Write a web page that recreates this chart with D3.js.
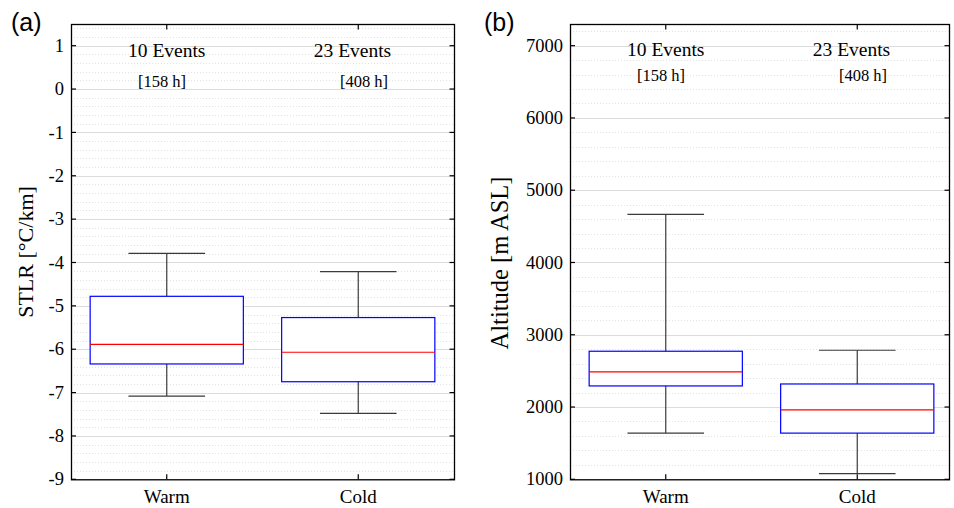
<!DOCTYPE html>
<html>
<head>
<meta charset="utf-8">
<script src="https://cdn.jsdelivr.net/npm/d3@7"></script>
<style>
  html, body { margin: 0; padding: 0; background: #fff; }
  svg { display: block; }
</style>
</head>
<body>
<svg id="chart" width="954" height="508"></svg>
<script>
// ---------- data ----------
const categories = ["Warm", "Cold"];
const eventLabels = ["10 Events", "23 Events"];
const hourLabels = ["[158 h]", "[408 h]"];

// STLR [°C/km]: [lower whisker, q1, median, q3, upper whisker]
const stlrWarm = [-7.08, -6.34, -5.89, -4.78, -3.79];
const stlrCold = [-7.48, -6.75, -6.07, -5.27, -4.21];
const stlrTicks = [-9, -8, -7, -6, -5, -4, -3, -2, -1, 0, 1];

// Altitude [m ASL]
const altWarm = [1640, 2292, 2486, 2772, 4665];
const altCold = [1078, 1639, 1962, 2319, 2786];
const altTicks = [1000, 2000, 3000, 4000, 5000, 6000, 7000];

// ---------- drawing ----------
const SERIF = "'Liberation Serif', 'Times New Roman', serif";
const svg = d3.select("#chart");

function panel(opts) {
  const { x0, x1, xr, y0, y1, domain, ticks, minorStep, series, ylabel, ylabelSize, ylabelY,
          tag, tagX, labelX, evY, hrY } = opts;
  const g = svg.append("g");
  const x = d3.scaleLinear().domain([0.5, 2.5]).range([x0, xr]);
  const y = d3.scaleLinear().domain(domain).range([y1, y0]);

  // minor grid
  const minor = d3.range(domain[0], domain[1] + 1e-9, minorStep);
  g.append("g").selectAll("line").data(minor).join("line")
    .attr("x1", x0).attr("x2", x1)
    .attr("y1", d => Math.round(y(d)) + 0.5).attr("y2", d => Math.round(y(d)) + 0.5)
    .attr("stroke", "#e3e3e3").attr("stroke-width", 1).attr("stroke-dasharray", "1,2");
  // major grid
  g.append("g").selectAll("line").data(ticks).join("line")
    .attr("x1", x0).attr("x2", x1)
    .attr("y1", d => Math.round(y(d)) + 0.5).attr("y2", d => Math.round(y(d)) + 0.5)
    .attr("stroke", "#dcdcdc").attr("stroke-width", 1);

  // boxes
  series.forEach((s, i) => {
    const cx = x(i + 1);
    const bw = x(1.4) - x(1.0);
    const cw = x(1.2) - x(1.0);
    const gb = g.append("g");
    const wc = "#3a3a3a";
    gb.append("line").attr("x1", cx).attr("x2", cx).attr("y1", y(s[4])).attr("y2", y(s[3]))
      .attr("stroke", wc).attr("stroke-width", 1.2);
    gb.append("line").attr("x1", cx).attr("x2", cx).attr("y1", y(s[1])).attr("y2", y(s[0]))
      .attr("stroke", wc).attr("stroke-width", 1.2);
    gb.append("line").attr("x1", cx - cw).attr("x2", cx + cw).attr("y1", y(s[4])).attr("y2", y(s[4]))
      .attr("stroke", wc).attr("stroke-width", 1.2);
    gb.append("line").attr("x1", cx - cw).attr("x2", cx + cw).attr("y1", y(s[0])).attr("y2", y(s[0]))
      .attr("stroke", wc).attr("stroke-width", 1.2);
    gb.append("rect").attr("x", cx - bw).attr("width", 2 * bw)
      .attr("y", y(s[3])).attr("height", y(s[1]) - y(s[3]))
      .attr("fill", "#fff").attr("stroke", "#0000ff").attr("stroke-width", 1.2);
    gb.append("line").attr("x1", cx - bw).attr("x2", cx + bw).attr("y1", y(s[2])).attr("y2", y(s[2]))
      .attr("stroke", "#ff0000").attr("stroke-width", 1.2);
  });

  // frame
  g.append("rect").attr("x", x0 + 0.5).attr("y", y0 + 0.5)
    .attr("width", x1 - x0).attr("height", y1 - y0)
    .attr("fill", "none").attr("stroke", "#000").attr("stroke-width", 1.3);

  const tl = 5;
  g.append("g").selectAll("line").data(ticks).join("line")
    .attr("x1", x0).attr("x2", x0 + tl)
    .attr("y1", d => y(d)).attr("y2", d => y(d)).attr("stroke", "#000").attr("stroke-width", 1.2);
  g.append("g").selectAll("line").data(ticks).join("line")
    .attr("x1", x1 + 0.5).attr("x2", x1 + 0.5 - tl)
    .attr("y1", d => y(d)).attr("y2", d => y(d)).attr("stroke", "#000").attr("stroke-width", 1.2);
  g.append("g").selectAll("line").data(categories).join("line")
    .attr("x1", (d, i) => x(i + 1)).attr("x2", (d, i) => x(i + 1))
    .attr("y1", y1).attr("y2", y1 - tl).attr("stroke", "#000").attr("stroke-width", 1.2);
  g.append("g").selectAll("line").data(categories).join("line")
    .attr("x1", (d, i) => x(i + 1)).attr("x2", (d, i) => x(i + 1))
    .attr("y1", y0 + 0.5).attr("y2", y0 + 0.5 + tl).attr("stroke", "#000").attr("stroke-width", 1.2);

  // y tick labels
  g.append("g").selectAll("text").data(ticks).join("text")
    .attr("x", x0 - 7).attr("y", d => y(d)).attr("dy", "0.33em")
    .attr("text-anchor", "end").attr("font-family", SERIF).attr("font-size", 18.5)
    .text(d => d);
  // category labels
  g.append("g").selectAll("text").data(categories).join("text")
    .attr("x", (d, i) => x(i + 1)).attr("y", y1 + 24)
    .attr("text-anchor", "middle").attr("font-family", SERIF).attr("font-size", 19)
    .text(d => d);
  // annotations
  g.append("g").selectAll("text").data(eventLabels).join("text")
    .attr("x", (d, i) => x(i === 0 ? 1.0 : 1.97)).attr("y", evY)
    .attr("text-anchor", "middle").attr("font-family", SERIF).attr("font-size", 19.5)
    .text(d => d);
  g.append("g").selectAll("text").data(hourLabels).join("text")
    .attr("x", (d, i) => x(i === 0 ? 0.975 : 2.03)).attr("y", hrY)
    .attr("text-anchor", "middle").attr("font-family", SERIF).attr("font-size", 16.5)
    .text(d => d);
  // y label
  g.append("text")
    .attr("transform", `translate(${labelX},${ylabelY}) rotate(-90)`)
    .attr("text-anchor", "middle").attr("font-family", SERIF).attr("font-size", ylabelSize)
    .text(ylabel);
  // panel tag
  g.append("text").attr("x", tagX).attr("y", 31)
    .attr("font-family", "'Liberation Sans', Arial, sans-serif")
    .attr("font-size", 25).text(tag);
}

panel({
  x0: 71, x1: 454, xr: 454, y0: 24, y1: 479.3,
  domain: [-9, 1.5], ticks: stlrTicks, minorStep: 0.2,
  series: [stlrWarm, stlrCold], ylabel: "STLR [°C/km]", ylabelSize: 22, ylabelY: 252,
  tag: "(a)", tagX: 11, labelX: 33, evY: 57, hrY: 87
});
panel({
  x0: 570, x1: 949, xr: 953, y0: 24, y1: 479.3,
  domain: [1000, 7300], ticks: altTicks, minorStep: 200,
  series: [altWarm, altCold], ylabel: "Altitude [m ASL]", ylabelSize: 24.5, ylabelY: 263,
  tag: "(b)", tagX: 484, labelX: 508, evY: 56, hrY: 81
});
</script>
</body>
</html>
